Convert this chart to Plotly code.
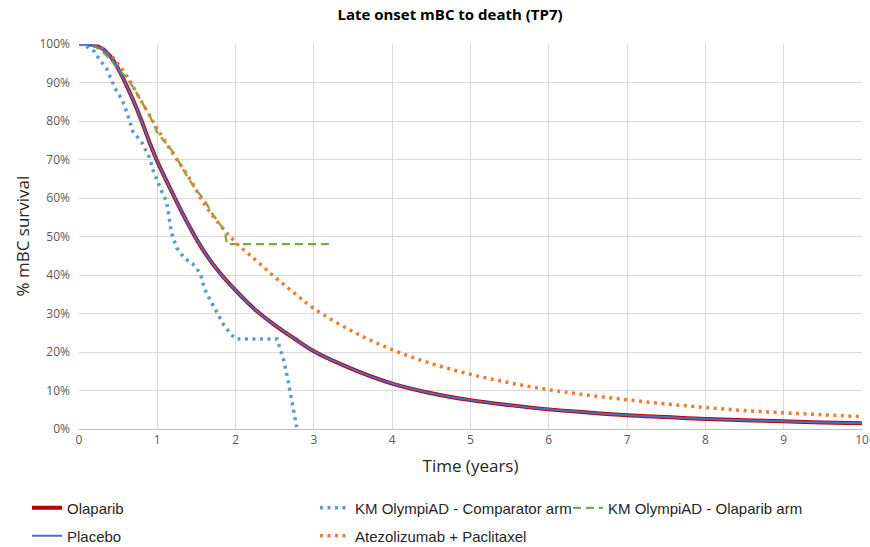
import plotly.graph_objects as go

# ---- data (time in years, survival in %) ----
t_model = [0, 0.1, 0.2, 0.3, 0.4, 0.5, 0.6, 0.7, 0.8, 0.9, 1.0, 1.2, 1.4, 1.6, 1.8, 2.0,
           2.25, 2.5, 2.75, 3.0, 3.5, 4.0, 4.5, 5.0, 5.5, 6.0, 6.5, 7.0, 7.5, 8.0, 8.5,
           9.0, 9.5, 10.0]
olaparib = [100, 100, 99.6, 98.8, 96.8, 93.6, 89.5, 85, 80, 74.5, 69.5, 61, 53, 46, 40.5, 36,
            31, 27, 23.5, 20.2, 15.5, 11.8, 9.3, 7.5, 6.2, 5.1, 4.3, 3.6, 3.1, 2.6, 2.3,
            2.0, 1.7, 1.5]
placebo = [100, 100, 99.6, 98.8, 96.8, 93.6, 89.5, 85, 80, 74.5, 69.5, 61, 53, 46, 40.5, 36,
           31, 27, 23.5, 20.2, 15.5, 11.8, 9.3, 7.5, 6.2, 5.1, 4.3, 3.6, 3.1, 2.6, 2.3,
           2.0, 1.7, 1.5]

t_atezo = [0, 0.2, 0.3, 0.4, 0.5, 0.6, 0.7, 0.8, 0.9, 1.0, 1.2, 1.4, 1.6, 1.8, 2.0, 2.25,
           2.5, 2.75, 3.0, 3.5, 4.0, 4.5, 5.0, 5.5, 6.0, 6.5, 7.0, 7.5, 8.0, 8.5, 9.0, 9.5, 10.0]
atezo = [100, 100, 98.8, 97.2, 94.8, 92, 88.6, 85, 81.5, 78, 71.5, 65.5, 58.5, 53, 48.5, 44,
         39.5, 35.3, 31.3, 25.3, 20.6, 17, 14.2, 12, 10.2, 8.8, 7.6, 6.5, 5.6, 4.8, 4.2, 3.7, 3.2]

t_km_comp = [0, 0.1, 0.2, 0.25, 0.35, 0.46, 0.55, 0.61, 0.69, 0.8, 0.9, 0.95, 1.05, 1.12,
             1.18, 1.25, 1.35, 1.45, 1.55, 1.6, 1.68, 1.77, 1.85, 1.93, 2.0, 2.53, 2.57,
             2.62, 2.66, 2.7, 2.74, 2.78]
km_comp = [100, 99.3, 98, 96.3, 93.7, 88.5, 85.5, 82.4, 77.2, 74.5, 70.5, 67, 62, 59,
           51, 47, 44.3, 43, 40.4, 36.5, 33.3, 30, 27, 24.8, 23.4, 23.4, 21,
           17.5, 13.5, 9, 5, 0.5]

t_km_ola = [0, 0.2, 0.3, 0.4, 0.5, 0.6, 0.7, 0.8, 0.9, 1.0, 1.1, 1.2, 1.3, 1.4, 1.5, 1.6,
            1.7, 1.8, 1.86, 1.89, 3.25]
km_ola = [100, 99.5, 98, 96, 93.5, 91.5, 88.5, 85, 81.5, 77, 74.5, 72, 68.5, 65, 62, 59.5,
          56, 53, 51.5, 48, 48]

x_ticks = list(range(0, 11))
y_ticks = list(range(0, 101, 10))

LEG_FONT = dict(family="Liberation Sans Narrow, Arial Narrow, sans-serif", size=15, color="#262626")

fig = go.Figure()

fig.add_trace(go.Scatter(x=t_model, y=olaparib, name="Olaparib", mode="lines",
                         line=dict(color="#c00000", width=4, shape="spline"),
                         legend="legend"))
fig.add_trace(go.Scatter(x=t_km_comp, y=km_comp, name="KM OlympiAD - Comparator arm",
                         mode="lines",
                         line=dict(color="#5b9bd5", width=3.5, dash="3px,4.5px"),
                         legend="legend2"))
fig.add_trace(go.Scatter(x=t_km_ola, y=km_ola, name="KM OlympiAD - Olaparib arm",
                         mode="lines",
                         line=dict(color="#70ad47", width=2.25, dash="8px,5px"),
                         legend="legend3"))
fig.add_trace(go.Scatter(x=t_atezo, y=atezo, name="Atezolizumab + Paclitaxel", mode="lines",
                         line=dict(color="#ed7d31", width=3.5, dash="3px,4.5px", shape="spline"),
                         legend="legend5"))
fig.add_trace(go.Scatter(x=t_model, y=placebo, name="Placebo", mode="lines",
                         line=dict(color="#4472c4", width=2, shape="spline"),
                         legend="legend4"))

W, H = 870, 547
L, R, T, B = 79, 8, 44, 118


def legend_at(x_text, y_center):
    # positions given in page pixels, converted to container fractions
    return dict(x=(x_text - 40) / W, y=1 - y_center / H, xanchor="left", yanchor="middle",
                xref="container", yref="container", font=LEG_FONT,
                bgcolor="rgba(0,0,0,0)", itemclick=False, itemdoubleclick=False)


fig.update_layout(
    width=W, height=H,
    margin=dict(l=L, r=R, t=T, b=B, autoexpand=False),
    paper_bgcolor="white", plot_bgcolor="white",
    font=dict(family="Open Sans, sans-serif", color="#595959"),
    title=dict(text="<b>Late onset mBC to death (TP7)</b>",
               font=dict(family="Open Sans, sans-serif", size=15, color="#000000"),
               x=450 / W, xref="container", xanchor="center",
               y=1 - 15 / H, yref="container", yanchor="middle"),
    showlegend=True,
    legend=legend_at(67, 508),
    legend2=legend_at(355, 508),
    legend3=legend_at(608, 508),
    legend4=legend_at(67, 536),
    legend5=legend_at(355, 536),
    xaxis=dict(range=[0, 10], tickvals=x_ticks, ticktext=[str(v) for v in x_ticks],
               showgrid=True, gridcolor="#d9d9d9", gridwidth=1,
               showline=True, linecolor="#bfbfbf", linewidth=1, zeroline=False,
               ticks="", tickfont=dict(size=12, color="#595959"),
               title=dict(text="Time (years)", standoff=12,
                          font=dict(size=17, color="#262626"))),
    yaxis=dict(range=[0, 100], tickvals=y_ticks, ticktext=[f"{v}%" for v in y_ticks],
               showgrid=True, gridcolor="#d9d9d9", gridwidth=1,
               showline=False, zeroline=False,
               ticks="", tickfont=dict(size=12, color="#595959"), ticklabelstandoff=8),
    annotations=[dict(text="% mBC survival", textangle=-90, showarrow=False,
                      xref="paper", yref="paper", x=(22 - L) / (W - L - R), y=0.5,
                      xanchor="center", yanchor="middle",
                      font=dict(size=17, color="#262626"))],
)

fig.write_html("out.html")
